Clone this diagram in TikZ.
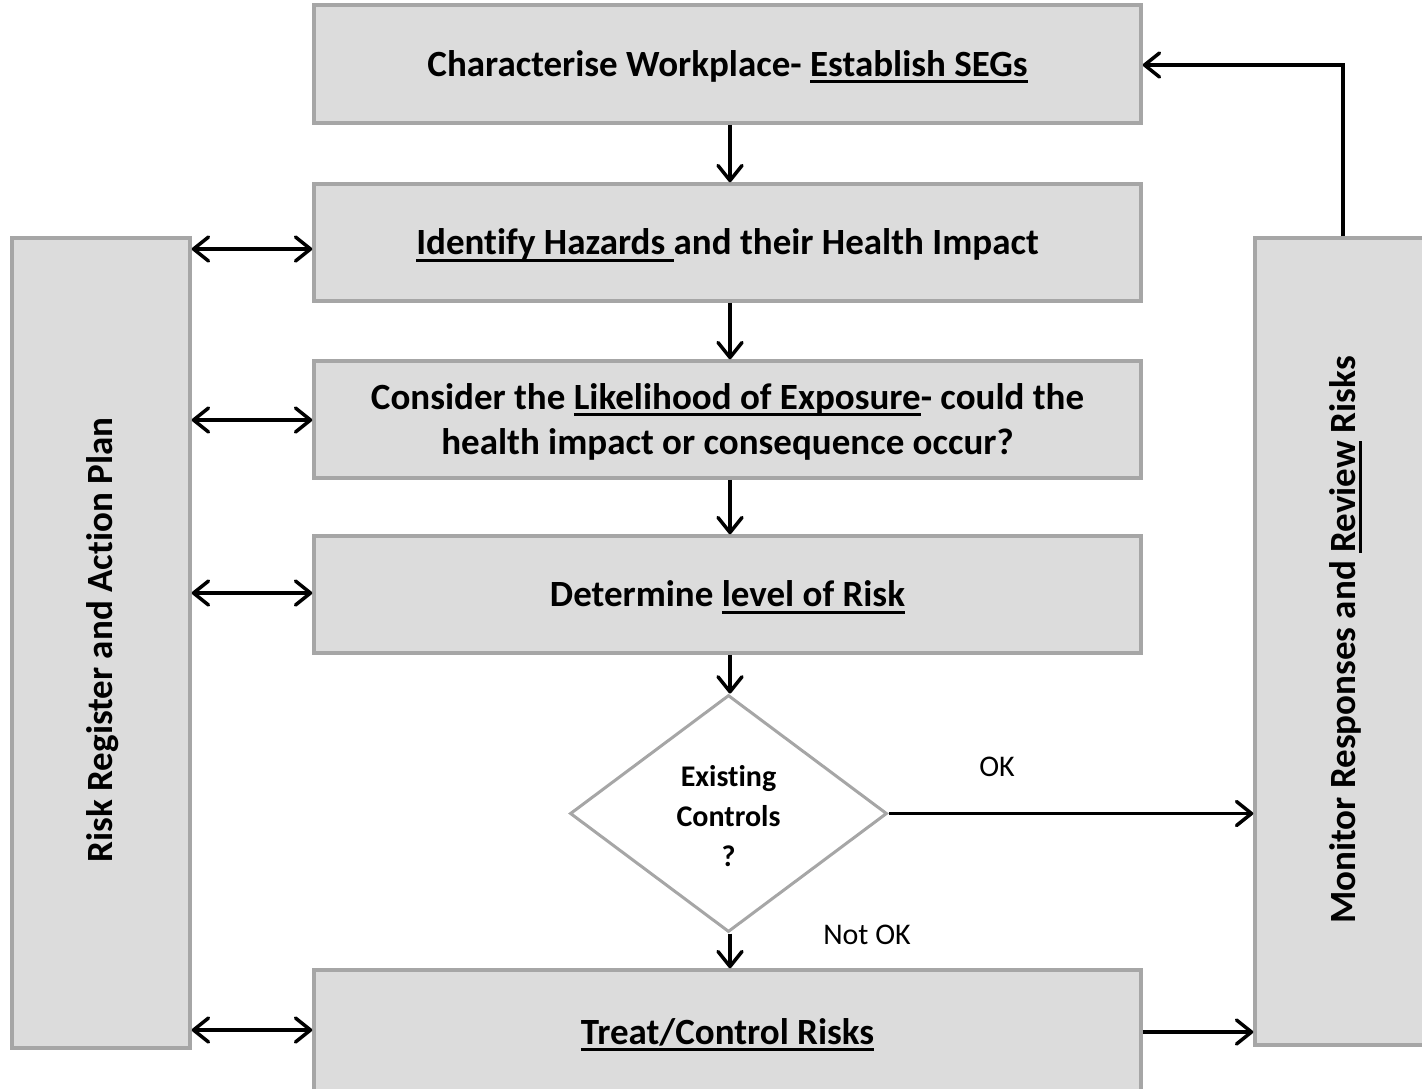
\documentclass[tikz,border=0pt]{standalone}
\usepackage{fontspec}
\setmainfont[Ligatures=NoCommon]{Carlito}
\usetikzlibrary{arrows.meta,shapes.geometric,calc}
\newcommand{\uln}[1]{\leavevmode\setbox0=\hbox{#1}\rlap{\smash{\rule[-7pt]{\wd0}{2.6pt}}}\box0\relax}
\definecolor{boxfill}{HTML}{DCDCDC}
\definecolor{boxline}{HTML}{A6A6A6}
\tikzset{
  stepbox/.style={draw=boxline, fill=boxfill, line width=3.5pt, inner sep=0pt,
    minimum width=827pt, align=center, text height=30pt, text depth=6pt,
    font=\fontsize{37}{45}\selectfont\bfseries},
  sidebox/.style={draw=boxline, fill=boxfill, line width=3.5pt, inner sep=0pt},
  sidetext/.style={rotate=90, font=\fontsize{37}{45}\selectfont\bfseries},
  conn/.style={line width=3.5pt, -{Straight Barb[length=15pt,width=24pt,round]}},
  dconn/.style={line width=3.5pt, {Straight Barb[length=15pt,width=24pt,round]}-{Straight Barb[length=15pt,width=24pt,round]}},
  lbl/.style={font=\fontsize{30}{34}\selectfont}
}
\begin{document}
\begin{tikzpicture}[x=1pt,y=-1pt]
\useasboundingbox (0,0) rectangle (1422,1088);
\begin{scope}
\clip (0,0) rectangle (1422,1088);
\node[stepbox, minimum height=118pt] (b1) at (727.5,64) {Characterise Workplace- \uln{Establish SEGs}};
\node[stepbox, minimum height=117pt] (b2) at (727.5,242.5) {\uln{Identify Hazards }and their Health Impact};
\node[stepbox, minimum height=117pt, text height=75pt, text depth=6pt] (b3) at (727.5,419.5) {Consider the \uln{Likelihood of Exposure}- could the\\health impact or consequence occur?};
\node[stepbox, minimum height=117pt] (b4) at (727.5,594.5) {Determine \uln{level of Risk}};
\node[stepbox, minimum height=130pt] (tr) at (727.5,1035) {};
\node[font=\fontsize{37}{45}\selectfont\bfseries, inner sep=0pt, text height=30pt, text depth=6pt] (trt) at (727.5,1032) {\uln{Treat/Control Risks}};
\node[sidebox, minimum width=178pt, minimum height=810pt] (lb) at (101,643) {};
\node[sidebox, minimum width=180pt, minimum height=807pt] (mb) at (1345,641.5) {};
\end{scope}
\node[sidetext] (lbt) at (103,640) {Risk Register and Action Plan};
\node[sidetext] (mbt) at (1345,640) {Monitor Responses and \uln{Review} Risks};
\node[diamond, draw=boxline, fill=white, line width=3pt, inner sep=0pt, aspect=1.34,
  minimum width=317pt, minimum height=237pt, align=center, text height=106pt, text depth=0pt,
  font=\fontsize{30}{40}\selectfont\bfseries] (dia) at (728.5,813.5) {Existing\\Controls\\?};
\node[lbl] (ok) at (997,767) {OK};
\node[lbl] (nok) at (867,935) {Not OK};
% vertical flow
\draw[conn] (b1.south -| 730,0) -- (b2.north -| 730,0);
\draw[conn] (b2.south -| 730,0) -- (b3.north -| 730,0);
\draw[conn] (b3.south -| 730,0) -- (b4.north -| 730,0);
\draw[conn] (b4.south -| 730,0) -- (dia.north -| 730,0);
\draw[conn] (dia.south -| 730,0) -- (tr.north -| 730,0);
% double arrows
\draw[dconn] (lb.east |- 0,249) -- (b2.west |- 0,249);
\draw[dconn] (lb.east |- 0,420) -- (b3.west |- 0,420);
\draw[dconn] (lb.east |- 0,593) -- (b4.west |- 0,593);
\draw[dconn] (lb.east |- 0,1030) -- (tr.west |- 0,1030);
% right side
\draw[conn] (dia.east) -- (mb.west |- dia.east);
\draw[conn] (tr.east |- 0,1032) -- (mb.west |- 0,1032);
\draw[conn] (mb.north -| 1343,0) |- (b1.east |- 0,65);
\end{tikzpicture}
\end{document}
